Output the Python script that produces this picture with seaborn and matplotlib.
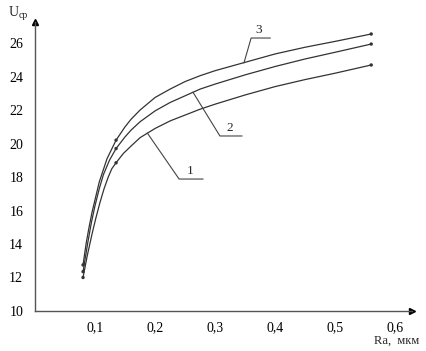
import numpy as np
import pandas as pd
import matplotlib.pyplot as plt
import seaborn as sns

# данные
ra_3 = [0.08, 0.085, 0.09, 0.095, 0.107, 0.12, 0.135, 0.15, 0.16, 0.175, 0.20, 0.225, 0.25,
        0.275, 0.30, 0.35, 0.40, 0.45, 0.50, 0.56]
u_3 = [12.75, 14.0, 15.0, 15.9, 17.7, 19.1, 20.2, 21.0, 21.45, 22.0, 22.75, 23.25, 23.7,
       24.05, 24.35, 24.85, 25.35, 25.75, 26.1, 26.54]
ra_2 = [0.08, 0.088, 0.094, 0.10, 0.107, 0.114, 0.124, 0.135, 0.15, 0.16, 0.175, 0.20, 0.225,
        0.25, 0.275, 0.30, 0.35, 0.40, 0.45, 0.50, 0.56]
u_2 = [12.35, 14.1, 15.3, 16.3, 17.3, 18.15, 19.0, 19.7, 20.4, 20.8, 21.3, 21.95, 22.45,
       22.85, 23.25, 23.55, 24.1, 24.6, 25.05, 25.45, 25.94]
ra_1 = [0.08, 0.087, 0.095, 0.101, 0.108, 0.115, 0.122, 0.128, 0.135, 0.147, 0.16, 0.175, 0.20,
        0.225, 0.25, 0.275, 0.30, 0.35, 0.40, 0.45, 0.50, 0.56]
u_1 = [12.0, 13.3, 14.6, 15.5, 16.45, 17.3, 18.0, 18.5, 18.85, 19.4, 19.85, 20.35, 20.9,
       21.35, 21.7, 22.05, 22.35, 22.9, 23.4, 23.82, 24.2, 24.69]
marked_ra = [0.08, 0.135, 0.56]
x_ticks = [0.1, 0.2, 0.3, 0.4, 0.5, 0.6]
x_tick_labels = ['0,1', '0,2', '0,3', '0,4', '0,5', '0,6']
y_ticks = [10, 12, 14, 16, 18, 20, 22, 24, 26]

df = pd.concat([
    pd.DataFrame({'Ra': ra_1, 'U': u_1, 'curve': '1'}),
    pd.DataFrame({'Ra': ra_2, 'U': u_2, 'curve': '2'}),
    pd.DataFrame({'Ra': ra_3, 'U': u_3, 'curve': '3'}),
], ignore_index=True)
pts = df[df.Ra.isin(marked_ra)]

sns.set_theme(style='white')
plt.rcParams['font.family'] = ['Liberation Serif', 'DejaVu Serif']

fig = plt.figure(figsize=(4.26, 3.51), dpi=100)
ax = fig.add_axes([0.0822, 0.114, 0.885, 0.823])

pal = {'1': '#333333', '2': '#333333', '3': '#333333'}
sns.lineplot(data=df, x='Ra', y='U', hue='curve', units='curve', estimator=None,
             sort=False, palette=pal, linewidth=0.9, legend=False, ax=ax)
sns.scatterplot(data=pts, x='Ra', y='U', hue='curve', palette=pal, s=6,
                linewidth=0, legend=False, ax=ax)

ax.set_xlim(0, 0.628)
ax.set_ylim(10, 27.25)
ax.set_xticks(x_ticks)
ax.set_xticklabels(x_tick_labels)
ax.set_yticks(y_ticks)
ax.set_yticks(np.arange(11, 27, 2), minor=True)
ax.set_xlabel('')
ax.set_ylabel('')
for s in ['top', 'right']:
    ax.spines[s].set_visible(False)
for s in ['left', 'bottom']:
    ax.spines[s].set_color('#555555')
    ax.spines[s].set_linewidth(1.0)
ax.tick_params(which='both', direction='inout', colors='#444444', labelcolor='black',
               labelsize=10, width=0.8)
ax.tick_params(which='major', length=5)
ax.tick_params(which='minor', length=4)
ax.tick_params(axis='y', pad=6)
ax.tick_params(axis='x', pad=5)

# стрелки осей
ax.plot(1, 0, '>', color='black', markersize=5, transform=ax.transAxes, clip_on=False)
ax.plot(0, 1, '^', color='black', markersize=5, transform=ax.transAxes, clip_on=False)

# подписи осей
fig.text(0.02, 0.955, 'U', fontsize=10, ha='left', va='baseline')
fig.text(0.043, 0.95, 'ср', fontsize=7, ha='left', va='baseline')
fig.text(0.985, 0.022, 'Ra,  мкм', fontsize=9, ha='right', va='baseline')

# выноски с номерами кривых
leaders = [
    ('3', [0.348, 0.36, 0.392], [24.81, 26.3, 26.3], (0.372, 26.45)),
    ('2', [0.263, 0.308, 0.345], [23.07, 20.45, 20.45], (0.325, 20.55)),
    ('1', [0.187, 0.24, 0.28], [20.63, 17.88, 17.88], (0.258, 18.0)),
]
for name, lx, ly, (tx, ty) in leaders:
    ax.plot(lx, ly, color='#444444', linewidth=0.8)
    ax.text(tx, ty, name, fontsize=9.5, ha='center', va='bottom')

fig.savefig('out.png', dpi=100)
